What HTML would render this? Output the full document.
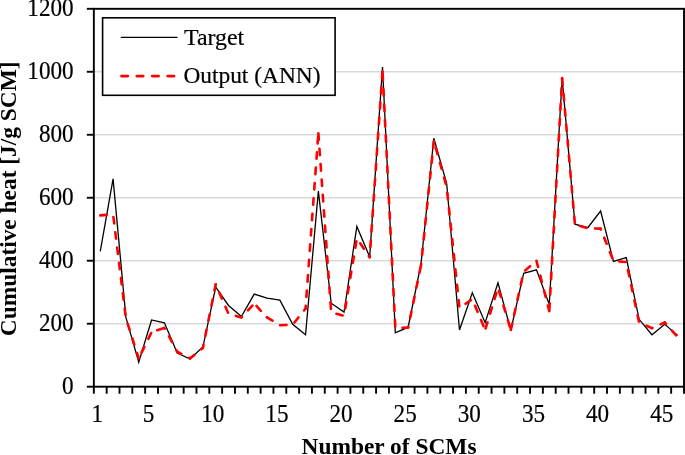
<!DOCTYPE html>
<html><head><meta charset="utf-8"><style>
html,body{margin:0;padding:0;background:#fff;width:685px;height:455px;overflow:hidden}
svg{display:block;will-change:transform;}
text{stroke:#000;stroke-width:0.2px;font-family:"Liberation Serif",serif;fill:#000}
</style></head><body>
<svg width="685" height="455" viewBox="0 0 685 455">
<line x1="93.84" y1="323.72" x2="684.00" y2="323.72" stroke="#d9d9d9" stroke-width="1.6"/>
<line x1="93.84" y1="260.73" x2="684.00" y2="260.73" stroke="#d9d9d9" stroke-width="1.6"/>
<line x1="93.84" y1="197.75" x2="684.00" y2="197.75" stroke="#d9d9d9" stroke-width="1.6"/>
<line x1="93.84" y1="134.77" x2="684.00" y2="134.77" stroke="#d9d9d9" stroke-width="1.6"/>
<line x1="93.84" y1="71.78" x2="684.00" y2="71.78" stroke="#d9d9d9" stroke-width="1.6"/>
<polyline points="100.25,251.29 113.08,178.86 125.91,317.42 138.74,362.14 151.57,319.94 164.40,322.77 177.23,353.00 190.06,358.99 202.89,347.02 215.72,287.19 228.55,305.45 241.38,316.47 254.21,294.11 267.04,298.21 279.87,300.10 292.70,324.35 305.53,334.74 318.36,191.14 331.19,303.25 344.02,312.06 356.85,226.41 369.68,256.95 382.51,67.06 395.33,332.85 408.16,327.18 420.99,263.88 433.82,138.23 446.65,183.26 459.48,330.01 472.31,292.85 485.14,322.77 497.97,282.78 510.80,330.33 523.63,273.33 536.46,269.87 549.29,304.51 562.12,78.08 574.95,224.20 587.78,227.67 600.61,210.98 613.44,261.36 626.27,257.58 639.10,319.31 651.93,334.74 664.76,324.35 677.59,335.37" fill="none" stroke="#000" stroke-width="1.3" stroke-linejoin="miter"/>
<g fill="none" stroke="#ff0000" stroke-width="2.6" stroke-linecap="round">
<line x1="100.25" y1="215.39" x2="113.08" y2="214.44" stroke-dasharray="6.5 8.9" stroke-dashoffset="0.00"/>
<line x1="113.08" y1="214.44" x2="125.91" y2="318.36" stroke-dasharray="6.5 8.9" stroke-dashoffset="12.86"/>
<line x1="125.91" y1="318.36" x2="138.74" y2="358.36" stroke-dasharray="6.5 8.9" stroke-dashoffset="9.78"/>
<line x1="138.74" y1="358.36" x2="151.57" y2="332.22" stroke-dasharray="6.5 8.9" stroke-dashoffset="9.08"/>
<line x1="151.57" y1="332.22" x2="164.40" y2="327.81" stroke-dasharray="6.5 8.9" stroke-dashoffset="9.40"/>
<line x1="164.40" y1="327.81" x2="177.23" y2="351.74" stroke-dasharray="6.5 8.9" stroke-dashoffset="5.60"/>
<line x1="177.23" y1="351.74" x2="190.06" y2="358.36" stroke-dasharray="6.5 8.9" stroke-dashoffset="1.96"/>
<line x1="190.06" y1="358.36" x2="202.89" y2="347.97" stroke-dasharray="6.5 8.9" stroke-dashoffset="0.99"/>
<line x1="202.89" y1="347.97" x2="215.72" y2="284.35" stroke-dasharray="6.5 8.9" stroke-dashoffset="3.06"/>
<line x1="215.72" y1="284.35" x2="228.55" y2="313.95" stroke-dasharray="6.5 8.9" stroke-dashoffset="6.35"/>
<line x1="228.55" y1="313.95" x2="241.38" y2="317.42" stroke-dasharray="6.5 8.9" stroke-dashoffset="7.82"/>
<line x1="241.38" y1="317.42" x2="254.21" y2="303.56" stroke-dasharray="6.5 8.9" stroke-dashoffset="5.71"/>
<line x1="254.21" y1="303.56" x2="267.04" y2="317.42" stroke-dasharray="6.5 8.9" stroke-dashoffset="12.09"/>
<line x1="267.04" y1="317.42" x2="279.87" y2="325.29" stroke-dasharray="6.5 8.9" stroke-dashoffset="0.17"/>
<line x1="279.87" y1="325.29" x2="292.70" y2="324.66" stroke-dasharray="6.5 8.9" stroke-dashoffset="15.23"/>
<line x1="292.70" y1="324.66" x2="305.53" y2="308.60" stroke-dasharray="6.5 8.9" stroke-dashoffset="12.67"/>
<line x1="305.53" y1="308.60" x2="318.36" y2="133.19" stroke-dasharray="6.5 8.9" stroke-dashoffset="3.72"/>
<line x1="318.36" y1="133.19" x2="331.19" y2="312.38" stroke-dasharray="6.5 8.9" stroke-dashoffset="15.17"/>
<line x1="331.19" y1="312.38" x2="344.02" y2="315.84" stroke-dasharray="6.5 8.9" stroke-dashoffset="10.02"/>
<line x1="344.02" y1="315.84" x2="356.85" y2="238.37" stroke-dasharray="6.5 8.9" stroke-dashoffset="7.91"/>
<line x1="356.85" y1="238.37" x2="369.68" y2="257.27" stroke-dasharray="6.5 8.9" stroke-dashoffset="9.43"/>
<line x1="369.68" y1="257.27" x2="382.51" y2="70.84" stroke-dasharray="6.5 8.9" stroke-dashoffset="5.14"/>
<line x1="382.51" y1="70.84" x2="395.33" y2="328.13" stroke-dasharray="6.5 8.9" stroke-dashoffset="12.41"/>
<line x1="395.33" y1="328.13" x2="408.16" y2="327.50" stroke-dasharray="6.5 8.9" stroke-dashoffset="8.22"/>
<line x1="408.16" y1="327.50" x2="420.99" y2="265.46" stroke-dasharray="6.5 8.9" stroke-dashoffset="5.66"/>
<line x1="420.99" y1="265.46" x2="433.82" y2="141.06" stroke-dasharray="6.5 8.9" stroke-dashoffset="4.81"/>
<line x1="433.82" y1="141.06" x2="446.65" y2="186.73" stroke-dasharray="6.5 8.9" stroke-dashoffset="8.26"/>
<line x1="446.65" y1="186.73" x2="459.48" y2="307.97" stroke-dasharray="6.5 8.9" stroke-dashoffset="9.30"/>
<line x1="459.48" y1="307.97" x2="472.31" y2="299.15" stroke-dasharray="6.5 8.9" stroke-dashoffset="8.02"/>
<line x1="472.31" y1="299.15" x2="485.14" y2="330.01" stroke-dasharray="6.5 8.9" stroke-dashoffset="8.19"/>
<line x1="485.14" y1="330.01" x2="497.97" y2="287.50" stroke-dasharray="6.5 8.9" stroke-dashoffset="13.81"/>
<line x1="497.97" y1="287.50" x2="510.80" y2="330.01" stroke-dasharray="6.5 8.9" stroke-dashoffset="12.02"/>
<line x1="510.80" y1="330.01" x2="523.63" y2="271.76" stroke-dasharray="6.5 8.9" stroke-dashoffset="0.00"/>
<line x1="523.63" y1="271.76" x2="536.46" y2="260.73" stroke-dasharray="6.5 8.9" stroke-dashoffset="13.40"/>
<line x1="536.46" y1="260.73" x2="549.29" y2="311.12" stroke-dasharray="6.5 8.9" stroke-dashoffset="0.00"/>
<line x1="549.29" y1="311.12" x2="562.12" y2="78.08" stroke-dasharray="6.5 8.9" stroke-dashoffset="14.19"/>
<line x1="562.12" y1="78.08" x2="574.95" y2="224.52" stroke-dasharray="6.5 8.9" stroke-dashoffset="14.90"/>
<line x1="574.95" y1="224.52" x2="587.78" y2="228.30" stroke-dasharray="6.5 8.9" stroke-dashoffset="10.20"/>
<line x1="587.78" y1="228.30" x2="600.61" y2="228.61" stroke-dasharray="6.5 8.9" stroke-dashoffset="8.17"/>
<line x1="600.61" y1="228.61" x2="613.44" y2="261.05" stroke-dasharray="6.5 8.9" stroke-dashoffset="5.61"/>
<line x1="613.44" y1="261.05" x2="626.27" y2="261.99" stroke-dasharray="6.5 8.9" stroke-dashoffset="9.69"/>
<line x1="626.27" y1="261.99" x2="639.10" y2="322.46" stroke-dasharray="6.5 8.9" stroke-dashoffset="7.15"/>
<line x1="639.10" y1="322.46" x2="651.93" y2="328.13" stroke-dasharray="6.5 8.9" stroke-dashoffset="7.36"/>
<line x1="651.93" y1="328.13" x2="664.76" y2="322.46" stroke-dasharray="6.5 8.9" stroke-dashoffset="5.99"/>
<line x1="664.76" y1="322.46" x2="677.59" y2="336.94" stroke-dasharray="6.5 8.9" stroke-dashoffset="4.62"/>
</g>
<rect x="93.84" y="8.80" width="590.16" height="377.90" fill="none" stroke="#000" stroke-width="1.9"/>
<line x1="86.84" y1="386.70" x2="93.84" y2="386.70" stroke="#000" stroke-width="1.9"/>
<line x1="86.84" y1="323.72" x2="93.84" y2="323.72" stroke="#000" stroke-width="1.9"/>
<line x1="86.84" y1="260.73" x2="93.84" y2="260.73" stroke="#000" stroke-width="1.9"/>
<line x1="86.84" y1="197.75" x2="93.84" y2="197.75" stroke="#000" stroke-width="1.9"/>
<line x1="86.84" y1="134.77" x2="93.84" y2="134.77" stroke="#000" stroke-width="1.9"/>
<line x1="86.84" y1="71.78" x2="93.84" y2="71.78" stroke="#000" stroke-width="1.9"/>
<line x1="86.84" y1="8.80" x2="93.84" y2="8.80" stroke="#000" stroke-width="1.9"/>
<line x1="93.84" y1="386.70" x2="93.84" y2="393.70" stroke="#000" stroke-width="1.9"/>
<line x1="106.67" y1="386.70" x2="106.67" y2="393.70" stroke="#000" stroke-width="1.9"/>
<line x1="119.50" y1="386.70" x2="119.50" y2="393.70" stroke="#000" stroke-width="1.9"/>
<line x1="132.33" y1="386.70" x2="132.33" y2="393.70" stroke="#000" stroke-width="1.9"/>
<line x1="145.16" y1="386.70" x2="145.16" y2="393.70" stroke="#000" stroke-width="1.9"/>
<line x1="157.99" y1="386.70" x2="157.99" y2="393.70" stroke="#000" stroke-width="1.9"/>
<line x1="170.82" y1="386.70" x2="170.82" y2="393.70" stroke="#000" stroke-width="1.9"/>
<line x1="183.65" y1="386.70" x2="183.65" y2="393.70" stroke="#000" stroke-width="1.9"/>
<line x1="196.48" y1="386.70" x2="196.48" y2="393.70" stroke="#000" stroke-width="1.9"/>
<line x1="209.31" y1="386.70" x2="209.31" y2="393.70" stroke="#000" stroke-width="1.9"/>
<line x1="222.14" y1="386.70" x2="222.14" y2="393.70" stroke="#000" stroke-width="1.9"/>
<line x1="234.97" y1="386.70" x2="234.97" y2="393.70" stroke="#000" stroke-width="1.9"/>
<line x1="247.79" y1="386.70" x2="247.79" y2="393.70" stroke="#000" stroke-width="1.9"/>
<line x1="260.62" y1="386.70" x2="260.62" y2="393.70" stroke="#000" stroke-width="1.9"/>
<line x1="273.45" y1="386.70" x2="273.45" y2="393.70" stroke="#000" stroke-width="1.9"/>
<line x1="286.28" y1="386.70" x2="286.28" y2="393.70" stroke="#000" stroke-width="1.9"/>
<line x1="299.11" y1="386.70" x2="299.11" y2="393.70" stroke="#000" stroke-width="1.9"/>
<line x1="311.94" y1="386.70" x2="311.94" y2="393.70" stroke="#000" stroke-width="1.9"/>
<line x1="324.77" y1="386.70" x2="324.77" y2="393.70" stroke="#000" stroke-width="1.9"/>
<line x1="337.60" y1="386.70" x2="337.60" y2="393.70" stroke="#000" stroke-width="1.9"/>
<line x1="350.43" y1="386.70" x2="350.43" y2="393.70" stroke="#000" stroke-width="1.9"/>
<line x1="363.26" y1="386.70" x2="363.26" y2="393.70" stroke="#000" stroke-width="1.9"/>
<line x1="376.09" y1="386.70" x2="376.09" y2="393.70" stroke="#000" stroke-width="1.9"/>
<line x1="388.92" y1="386.70" x2="388.92" y2="393.70" stroke="#000" stroke-width="1.9"/>
<line x1="401.75" y1="386.70" x2="401.75" y2="393.70" stroke="#000" stroke-width="1.9"/>
<line x1="414.58" y1="386.70" x2="414.58" y2="393.70" stroke="#000" stroke-width="1.9"/>
<line x1="427.41" y1="386.70" x2="427.41" y2="393.70" stroke="#000" stroke-width="1.9"/>
<line x1="440.24" y1="386.70" x2="440.24" y2="393.70" stroke="#000" stroke-width="1.9"/>
<line x1="453.07" y1="386.70" x2="453.07" y2="393.70" stroke="#000" stroke-width="1.9"/>
<line x1="465.90" y1="386.70" x2="465.90" y2="393.70" stroke="#000" stroke-width="1.9"/>
<line x1="478.73" y1="386.70" x2="478.73" y2="393.70" stroke="#000" stroke-width="1.9"/>
<line x1="491.56" y1="386.70" x2="491.56" y2="393.70" stroke="#000" stroke-width="1.9"/>
<line x1="504.39" y1="386.70" x2="504.39" y2="393.70" stroke="#000" stroke-width="1.9"/>
<line x1="517.22" y1="386.70" x2="517.22" y2="393.70" stroke="#000" stroke-width="1.9"/>
<line x1="530.05" y1="386.70" x2="530.05" y2="393.70" stroke="#000" stroke-width="1.9"/>
<line x1="542.87" y1="386.70" x2="542.87" y2="393.70" stroke="#000" stroke-width="1.9"/>
<line x1="555.70" y1="386.70" x2="555.70" y2="393.70" stroke="#000" stroke-width="1.9"/>
<line x1="568.53" y1="386.70" x2="568.53" y2="393.70" stroke="#000" stroke-width="1.9"/>
<line x1="581.36" y1="386.70" x2="581.36" y2="393.70" stroke="#000" stroke-width="1.9"/>
<line x1="594.19" y1="386.70" x2="594.19" y2="393.70" stroke="#000" stroke-width="1.9"/>
<line x1="607.02" y1="386.70" x2="607.02" y2="393.70" stroke="#000" stroke-width="1.9"/>
<line x1="619.85" y1="386.70" x2="619.85" y2="393.70" stroke="#000" stroke-width="1.9"/>
<line x1="632.68" y1="386.70" x2="632.68" y2="393.70" stroke="#000" stroke-width="1.9"/>
<line x1="645.51" y1="386.70" x2="645.51" y2="393.70" stroke="#000" stroke-width="1.9"/>
<line x1="658.34" y1="386.70" x2="658.34" y2="393.70" stroke="#000" stroke-width="1.9"/>
<line x1="671.17" y1="386.70" x2="671.17" y2="393.70" stroke="#000" stroke-width="1.9"/>
<line x1="684.00" y1="386.70" x2="684.00" y2="393.70" stroke="#000" stroke-width="1.9"/>
<text transform="translate(73.6,394.10) scale(0.985,1.08)" text-anchor="end" font-size="23.5">0</text>
<text transform="translate(73.6,331.12) scale(0.985,1.08)" text-anchor="end" font-size="23.5">200</text>
<text transform="translate(73.6,268.13) scale(0.985,1.08)" text-anchor="end" font-size="23.5">400</text>
<text transform="translate(73.6,205.15) scale(0.985,1.08)" text-anchor="end" font-size="23.5">600</text>
<text transform="translate(73.6,142.17) scale(0.985,1.08)" text-anchor="end" font-size="23.5">800</text>
<text transform="translate(73.6,79.18) scale(0.985,1.08)" text-anchor="end" font-size="23.5">1000</text>
<text transform="translate(73.6,16.20) scale(0.985,1.08)" text-anchor="end" font-size="23.5">1200</text>
<text transform="translate(97.25,421.6) scale(0.985,1.08)" text-anchor="middle" font-size="23.5">1</text>
<text transform="translate(148.57,421.6) scale(0.985,1.08)" text-anchor="middle" font-size="23.5">5</text>
<text transform="translate(212.72,421.6) scale(0.985,1.08)" text-anchor="middle" font-size="23.5">10</text>
<text transform="translate(276.87,421.6) scale(0.985,1.08)" text-anchor="middle" font-size="23.5">15</text>
<text transform="translate(341.02,421.6) scale(0.985,1.08)" text-anchor="middle" font-size="23.5">20</text>
<text transform="translate(405.16,421.6) scale(0.985,1.08)" text-anchor="middle" font-size="23.5">25</text>
<text transform="translate(469.31,421.6) scale(0.985,1.08)" text-anchor="middle" font-size="23.5">30</text>
<text transform="translate(533.46,421.6) scale(0.985,1.08)" text-anchor="middle" font-size="23.5">35</text>
<text transform="translate(597.61,421.6) scale(0.985,1.08)" text-anchor="middle" font-size="23.5">40</text>
<text transform="translate(661.76,421.6) scale(0.985,1.08)" text-anchor="middle" font-size="23.5">45</text>
<text x="389" y="454" text-anchor="middle" font-size="23.4" font-weight="bold" style="stroke:none">Number of SCMs</text>
<text transform="translate(16.2,198.8) rotate(-90)" text-anchor="middle" font-size="23.4" font-weight="bold" style="stroke:none">Cumulative heat [J/g SCM]</text>
<rect x="102.6" y="17.8" width="232.50" height="77.50" fill="#fff" stroke="#000" stroke-width="1.6"/>
<line x1="120.8" y1="37.4" x2="177.5" y2="37.4" stroke="#000" stroke-width="1.3"/>
<line x1="121.4" y1="76.1" x2="175.6" y2="76.1" stroke="#ff0000" stroke-width="2.6" stroke-dasharray="6.5 8.9" stroke-linecap="round"/>
<text x="184" y="44.5" font-size="23.9">Target</text>
<text transform="translate(183.4,83) scale(0.979,1)" font-size="23.9">Output (ANN)</text>
</svg>
</body></html>
